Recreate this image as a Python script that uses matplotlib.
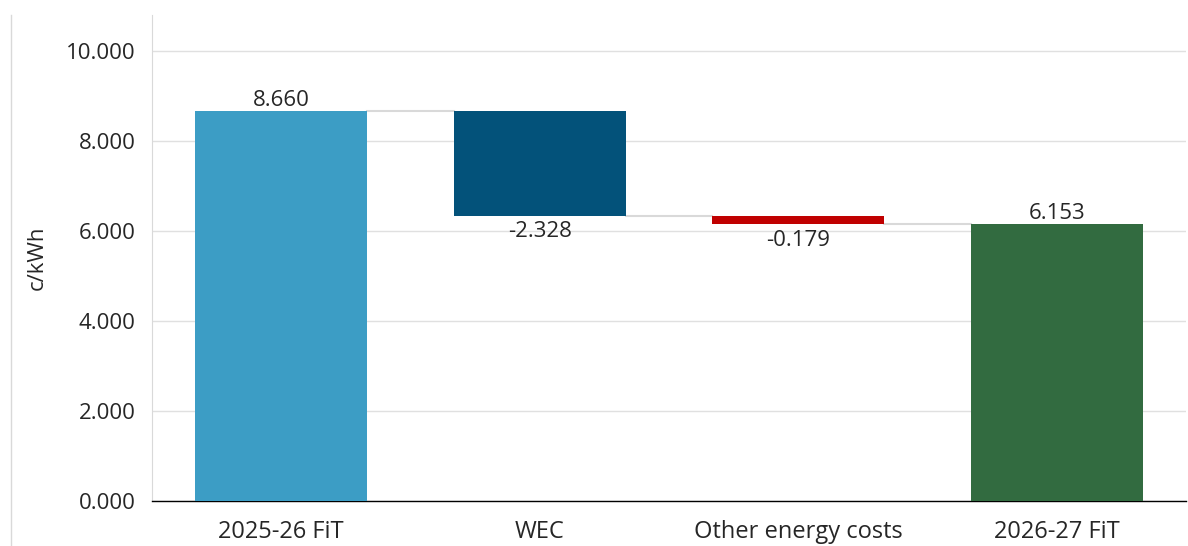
import matplotlib
matplotlib.use("Agg")
import matplotlib.pyplot as plt
from matplotlib.lines import Line2D

plt.rcParams['font.family'] = ['Open Sans', 'DejaVu Sans']

categories = ["2025-26 FiT", "WEC", "Other energy costs", "2026-27 FiT"]
changes = [8.660, -2.328, -0.179, 6.153]
kinds = ["total", "delta", "delta", "total"]
colors = ["#3C9DC5", "#03527A", "#C00000", "#326B40"]
yticks = [0, 2, 4, 6, 8, 10]

fig = plt.figure(figsize=(11.88, 5.46), dpi=100)
ax = fig.add_axes([152/1188, 45/546, (1186-152)/1188, (501-15)/546])

bottoms, heights = [], []
running = 0.0
for v, k in zip(changes, kinds):
    if k == "total":
        bottoms.append(0.0)
        heights.append(v)
        running = v
    else:
        new = running + v
        bottoms.append(min(running, new))
        heights.append(abs(v))
        running = new

width = 0.665
x = list(range(len(categories)))
ax.bar(x, heights, bottom=bottoms, width=width, color=colors, zorder=3)

# connectors
levels = []
running = 0.0
for v, k in zip(changes, kinds):
    running = v if k == "total" else running + v
    levels.append(running)
for i in range(len(categories) - 1):
    ax.plot([i + width/2, i + 1 - width/2], [levels[i], levels[i]],
            color="#D9D9D9", lw=1.5, zorder=2)

FS = 16
# labels
for i, (v, k) in enumerate(zip(changes, kinds)):
    if v >= 0:
        ax.text(i, bottoms[i] + heights[i] + 0.0, f"{v:.3f}", ha="center", va="bottom",
                fontsize=FS, color="#262626")
    else:
        ax.text(i, bottoms[i] - 0.12, f"{v:.3f}", ha="center", va="top",
                fontsize=FS, color="#262626")

ax.set_xlim(-0.5, 3.5)
ax.set_ylim(0, 10.8)
ax.set_yticks(yticks)
ax.set_yticklabels([f"{t:.3f}" for t in yticks])
ax.set_xticks(x)
ax.set_xticklabels(categories)
ax.tick_params(axis='both', length=0, labelsize=FS, labelcolor="#262626")
ax.tick_params(axis='x', labelsize=17, pad=14)
ax.tick_params(axis='y', pad=12)
ax.grid(axis='y', color="#E0E0E0", lw=1, zorder=0)
ax.set_axisbelow(True)
for s in ["top", "right"]:
    ax.spines[s].set_visible(False)
ax.spines["left"].set_color("#D9D9D9")
ax.spines["bottom"].set_color("#000000")
ax.spines["bottom"].set_linewidth(1)
ax.set_ylabel("c/kWh", fontsize=FS, color="#262626", labelpad=13)

fig.add_artist(Line2D([11/1188, 11/1188], [0, 1 - 15/546], color="#D9D9D9", lw=1,
                      transform=fig.transFigure))

fig.savefig("out.png", dpi=100)
